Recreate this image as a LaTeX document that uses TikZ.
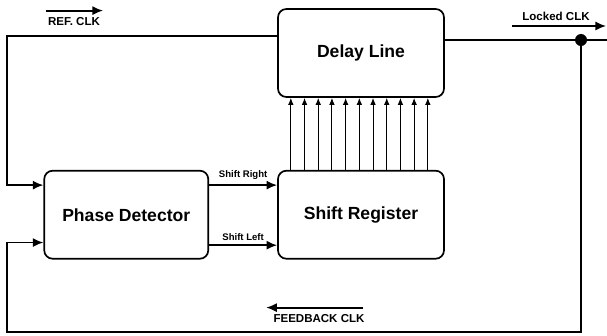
\documentclass[tikz,border=0pt]{standalone}
\usepackage{fontspec}
\setmainfont{Liberation Sans}
\usetikzlibrary{arrows.meta,calc,positioning}
\tikzstyle{block}=[rectangle,rounded corners=6pt,draw=black,line width=1.2pt,align=center,
  minimum width=4.15cm,minimum height=2.2cm,font=\fontsize{12.5}{14}\selectfont\bfseries]
\tikzstyle{tag}=[inner sep=1pt,font=\fontsize{6.8}{8}\selectfont\bfseries]
\tikzstyle{clk}=[inner sep=1pt,font=\fontsize{8.2}{10}\selectfont\bfseries]
\tikzstyle{wire}=[line width=1.3pt]
\tikzstyle{tap line}=[line width=0.7pt,-{Latex[length=5pt,width=4pt]}]
\tikzstyle{dot}=[circle,fill=black,inner sep=0pt,minimum size=0.3cm]

\begin{document}
\begin{tikzpicture}[>={Latex[length=7.5pt,width=6.5pt]},x=0.025cm,y=-0.025cm]
    \useasboundingbox (0,0) rectangle (607,336);

    \node[block] (dl) at (361,53) {Delay Line};
    \node[block] (sr) [below=1.8cm of dl] {Shift Register};
    \node[block,minimum width=4.1cm] (pd) [left=1.7cm of sr] {Phase Detector};

    \coordinate (refy) at (7,36);
    \coordinate (fby) at (7,332);
    \node[dot] (tap) at (581,40) {};
    \coordinate (outend) at (607,40);

    % reference clock into delay line and phase detector
    \draw[wire,->] (dl.west |- refy) -- (refy) |- ($(pd.north west)!0.17!(pd.south west)$);
    \draw[wire] (dl.east |- tap) -- (tap) -- (outend);
    % feedback loop
    \draw[wire,->] (tap) -- (tap |- fby) -- (fby) |- ($(pd.north west)!0.81!(pd.south west)$);

    \coordinate (sright) at ($(pd.north east)!0.17!(pd.south east)$);
    \coordinate (sleft) at ($(pd.north east)!0.84!(pd.south east)$);
    \draw[wire,->] (sright) -- (sright -| sr.west) node[tag,midway,above=2pt] {Shift Right};
    \draw[wire,->] (sleft) -- (sleft -| sr.west) node[tag,midway,above=2pt] {Shift Left};

    \foreach \i in {1,...,11}
      \draw[tap line] ($(sr.north west)+(13.7*\i,0)$) coordinate (bit) -- (bit |- dl.south);

    % clock labels
    \node[clk] (refl) at (74,22) {REF. CLK};
    \draw[wire,->] ([yshift=4pt]refl.north west) -- ([xshift=1pt,yshift=4pt]refl.north east);
    \node[clk] (lock) at (556,16) {Locked CLK};
    \coordinate (lkA) at (512,26);
    \coordinate (lkB) at (606,26);
    \draw[wire,->] (lkA) -- (lkB);
    \node[clk] (fbl) at (319,319) {FEEDBACK CLK};
    \draw[wire,->] ([xshift=-2pt,yshift=4pt]fbl.north east) -- ([xshift=-4pt,yshift=4pt]fbl.north west);
\end{tikzpicture}
\end{document}
